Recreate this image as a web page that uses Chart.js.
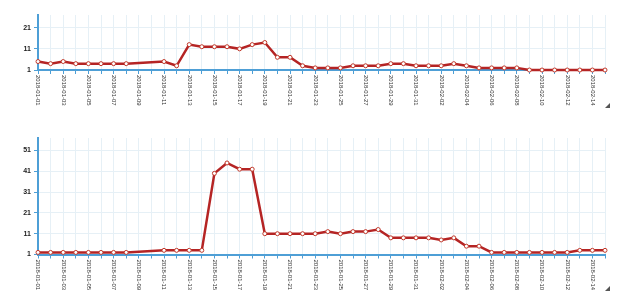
<!DOCTYPE html>
<html>
<head>
<meta charset="utf-8">
<script src="https://cdn.jsdelivr.net/npm/chart.js@4/dist/chart.umd.min.js"></script>
<style>
  html, body { margin: 0; padding: 0; background: #fff; }
  .box { position: absolute; left: 0; width: 612px; }
  #box1 { top: 0; height: 110px; }
  #box2 { top: 125px; height: 168px; }
  canvas { display: block; }
  .grip { position: absolute; width: 0; height: 0; border-left: 5px solid transparent; border-bottom: 5px solid #555; }
  #g1 { left: 605px; top: 103px; }
  #g2 { left: 605px; top: 286px; }
</style>
</head>
<body>
<div class="box" id="box1"><canvas id="c1" width="612" height="110"></canvas></div>
<div class="box" id="box2"><canvas id="c2" width="612" height="168"></canvas></div>
<div class="grip" id="g1"></div>
<div class="grip" id="g2"></div>
<script>
const dates = [
  "2018-01-01","2018-01-02","2018-01-03","2018-01-04","2018-01-05","2018-01-06","2018-01-07","2018-01-08",
  "2018-01-09","2018-01-10","2018-01-11","2018-01-12","2018-01-13","2018-01-14","2018-01-15","2018-01-16",
  "2018-01-17","2018-01-18","2018-01-19","2018-01-20","2018-01-21","2018-01-22","2018-01-23","2018-01-24",
  "2018-01-25","2018-01-26","2018-01-27","2018-01-28","2018-01-29","2018-01-30","2018-01-31","2018-02-01",
  "2018-02-02","2018-02-03","2018-02-04","2018-02-05","2018-02-06","2018-02-07","2018-02-08","2018-02-09",
  "2018-02-10","2018-02-11","2018-02-12","2018-02-13","2018-02-14","2018-02-15"
];
const topSeries = [5,4,5,4,4,4,4,4,null,null,5,3,13,12,12,12,11,13,14,7,7,3,2,2,2,3,3,3,4,4,3,3,3,4,3,2,2,2,2,1,1,1,1,1,1,1];
const bottomSeries = [2,2,2,2,2,2,2,2,null,null,3,3,3,3,40,45,42,42,11,11,11,11,11,12,11,12,12,13,9,9,9,9,8,9,5,5,2,2,2,2,2,2,2,3,3,3];
const topYTicks = [1, 11, 21];
const bottomYTicks = [1, 11, 21, 31, 41, 51];

Chart.defaults.font.family = '"Liberation Sans", Arial, sans-serif';

const AXIS = '#4e9fd6';
const GRID = '#e6f0f6';

const xLabelPlugin = {
  id: 'xlabels',
  afterDraw(chart) {
    const xs = chart.scales.x;
    const ctx = chart.ctx;
    ctx.save();
    ctx.font = '6px "Liberation Sans", Arial, sans-serif';
    ctx.fillStyle = '#333';
    ctx.textAlign = 'left';
    ctx.textBaseline = 'middle';
    dates.forEach((d, i) => {
      if (i % 2) return;
      const x = xs.getPixelForValue(i);
      ctx.save();
      ctx.translate(x, xs.top + 5);
      ctx.rotate(Math.PI / 2);
      ctx.fillText(d, 0, 0);
      ctx.restore();
    });
    ctx.restore();
  }
};

function makeChart(id, series, yTicks, yMax, padTop, xHeight) {
  return new Chart(document.getElementById(id), {
    type: 'line',
    data: {
      labels: dates,
      datasets: [{
        data: series,
        borderColor: '#b52424',
        borderWidth: 2.5,
        pointRadius: 2,
        pointBorderWidth: 1,
        pointBackgroundColor: '#fff',
        pointBorderColor: '#c0392b',
        tension: 0,
        spanGaps: true,
        clip: false
      }]
    },
    options: {
      responsive: false,
      animation: false,
      layout: { padding: { top: padTop, right: 7, left: 0, bottom: 0 } },
      plugins: { legend: { display: false }, tooltip: { enabled: false } },
      scales: {
        x: {
          type: 'category',
          offset: false,
          ticks: { display: false },
          grid: { color: GRID, tickColor: AXIS, tickLength: 4, lineWidth: 1 },
          border: { display: true, color: AXIS, width: 2 },
          afterFit(s) { s.height = xHeight; }
        },
        y: {
          min: 1,
          max: yMax,
          ticks: {
            stepSize: 10,
            color: '#222',
            font: { size: 7, weight: 'bold' },
            padding: 3
          },
          afterBuildTicks(s) { s.ticks = yTicks.map(v => ({ value: v })); },
          grid: { color: GRID, tickColor: AXIS, tickLength: 4, lineWidth: 1 },
          border: { display: true, color: AXIS, width: 2 },
          afterFit(s) { s.width = 38; }
        }
      }
    },
    plugins: [xLabelPlugin]
  });
}

makeChart('c1', topSeries, topYTicks, 27, 15, 40);
makeChart('c2', bottomSeries, bottomYTicks, 57, 13, 38.5);
</script>
</body>
</html>
